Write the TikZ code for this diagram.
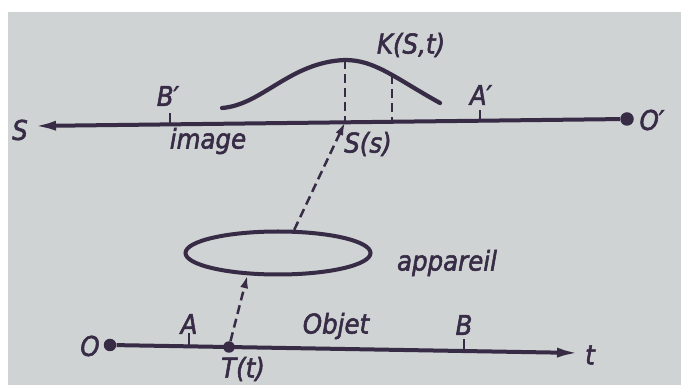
\documentclass[tikz,border=0pt]{standalone}
\usepackage{fontspec}
\newfontfamily\drawfont{DejaVu Sans Condensed}[FakeBold=2]
\usepackage{tikz}
\usetikzlibrary{shapes.geometric, arrows.meta, positioning, calc}
\definecolor{ink}{RGB}{55,43,70}
\definecolor{paper}{RGB}{207,211,211}

\begin{document}
\begin{tikzpicture}[
        x=0.2mm, y=-0.2mm,
        axis/.style={ink, line width=0.8mm},
        tickline/.style={ink, line width=0.5mm},
        dashline/.style={ink, line width=0.5mm, dash pattern=on 1.8mm off 1mm},
        lbl/.style={text=ink, font=\drawfont\itshape\fontsize{15.5}{17}\selectfont, inner sep=0pt},
        blob/.style={circle, fill=ink, inner sep=0pt, minimum size=#1},
        bigtip/.style={-{Latex[length=4.6mm, width=2mm]}},
        smalltip/.style={-{Latex[length=2.6mm, width=1.6mm]}}
    ]
    % photo of the page
    \fill[white] (0,0) rectangle (681,385);
    \fill[paper] (8,12) rectangle (681,385);

    % image axis
    \node[blob=2.7mm] (Op) at (627,119) {};
    \coordinate (Send) at (33,126);
    \draw[axis, bigtip] (Op) -- (Send);
    \coordinate (Bp) at (170,124.4);
    \coordinate (Ap) at (480,120.7);
    \draw[tickline] (Bp) -- ++(0,-11);
    \draw[tickline] (Ap) -- ++(0,-11);

    % kernel curve
    \coordinate (Kpeak) at (345,60);
    \coordinate (Kside) at (392,75);
    \coordinate (Ss) at (345,122.3);
    \coordinate (Sside) at (392,121.8);
    \draw[ink, line width=0.85mm, line cap=round] (222,108) .. controls (262,105) and (290,62) .. (Kpeak)
        .. controls (375,60) and (395,78) .. (440,103);
    \draw[dashline] (Kpeak) -- (Ss);
    \draw[dashline] (Kside) -- (Sside);

    % apparatus
    \node[ellipse, draw=ink, line width=0.8mm, minimum width=37mm, minimum height=8.6mm, inner sep=0pt] (app) at (278,253) {};
    \draw[dashline, smalltip] (app.55) -- (Ss);

    % object axis
    \node[blob=2.5mm] (O) at (110,345) {};
    \coordinate (tend) at (580,353);
    \draw[axis, bigtip] (O) -- (tend);
    \coordinate (A) at (189,346.3);
    \coordinate (B) at (464,351);
    \draw[tickline] (A) -- ++(0,-13);
    \draw[tickline] (B) -- ++(0,-12);
    \node[blob=2.3mm] (T) at (229,347) {};
    \draw[dashline, smalltip] (T) -- (app.216);

    % labels
    \node[lbl] (lS) at (20,130) {S};
    \node[lbl] (lBp) at (168,96) {B′};
    \node[lbl] (limage) at (208,141) {image};
    \node[lbl] (lK) at (411,45) {K(S,t)};
    \node[lbl] (lSs) at (368,144) {S(s)};
    \node[lbl] (lAp) at (481,95) {A′};
    \node[lbl] (lOp) at (652,120) {O′};
    \node[lbl] (lapp) at (447,263) {appareil};
    \node[lbl] (lO) at (90,346) {O};
    \node[lbl] (lA) at (189,324) {A};
    \node[lbl] (lT) at (243,369) {T(t)};
    \node[lbl] (lobj) at (336,326) {Objet};
    \node[lbl] (lB) at (464,325) {B};
    \node[lbl] (lt) at (590,355) {t};
\end{tikzpicture}
\end{document}
